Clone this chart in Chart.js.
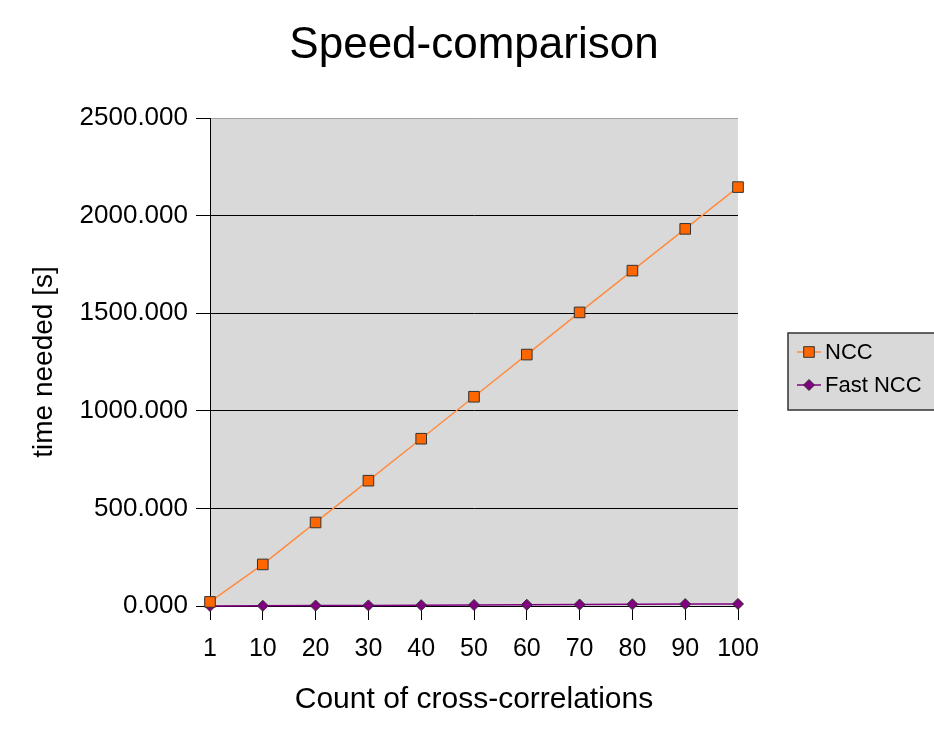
<!DOCTYPE html>
<html>
<head>
<meta charset="utf-8">
<script src="https://cdn.jsdelivr.net/npm/chart.js@4/dist/chart.umd.min.js"></script>
<style>
  html, body { margin: 0; padding: 0; background: #fff; }
  canvas { display: block; }
</style>
</head>
<body>
<canvas id="myChart" width="934" height="733"></canvas>
<script>
const counts = ['1', '10', '20', '30', '40', '50', '60', '70', '80', '90', '100'];
const nccTimes = [21, 213, 428, 642, 857, 1072, 1288, 1504, 1718, 1932, 2146];
const fastNccTimes = [0.3, 1.1, 2.2, 3.2, 4.3, 5.4, 6.5, 7.5, 8.6, 9.7, 10.8];
const yTicks = [0, 500, 1000, 1500, 2000, 2500];

const chartTitle = 'Speed-comparison';
const fontName = '"Liberation Sans", Arial, sans-serif';

// grauer Hintergrund fuer den Plotbereich + Titel
const plotBackground = {
  id: 'plotBackground',
  beforeDraw(chart) {
    const { ctx, chartArea } = chart;
    ctx.save();
    ctx.fillStyle = '#d9d9d9';
    ctx.fillRect(chartArea.left, chartArea.top, chartArea.right - chartArea.left, chartArea.bottom - chartArea.top);
    ctx.fillStyle = '#000';
    ctx.font = '44px ' + fontName;
    ctx.textAlign = 'center';
    ctx.textBaseline = 'middle';
    ctx.fillText(chartTitle, 474, 46);
    ctx.restore();
  }
};

// Legende rechts, selbst gezeichnet aus den Datasets
const sideLegend = {
  id: 'sideLegend',
  afterDraw(chart) {
    const ctx = chart.ctx;
    ctx.save();
    ctx.fillStyle = '#d9d9d9';
    ctx.strokeStyle = '#333';
    ctx.lineWidth = 1.5;
    ctx.fillRect(788, 333, 160, 77);
    ctx.strokeRect(788, 333, 160, 77);
    chart.data.datasets.forEach((ds, i) => {
      const y = 352 + i * 33;
      ctx.strokeStyle = ds.borderColor;
      ctx.lineWidth = 1.5;
      ctx.beginPath();
      ctx.moveTo(797, y);
      ctx.lineTo(821, y);
      ctx.stroke();
      ctx.fillStyle = ds.pointBackgroundColor;
      ctx.strokeStyle = ds.pointBorderColor;
      ctx.lineWidth = 1;
      Chart.helpers.drawPoint(ctx, {
        pointStyle: ds.pointStyle,
        rotation: 0,
        borderWidth: 1,
        radius: ds.pointRadius
      }, 809, y);
      ctx.fillStyle = '#000';
      ctx.font = '22px ' + fontName;
      ctx.textAlign = 'left';
      ctx.textBaseline = 'middle';
      ctx.fillText(ds.label, 825, y + 1);
    });
    ctx.restore();
  }
};

const ctx = document.getElementById('myChart').getContext('2d');
new Chart(ctx, {
  type: 'line',
  data: {
    labels: counts,
    datasets: [{
      label: 'NCC',
      data: nccTimes,
      borderColor: '#ff8c40',
      borderWidth: 1.5,
      pointStyle: 'rect',
      pointRadius: 7.5,
      pointBackgroundColor: '#ff6600',
      pointBorderColor: '#333',
      pointBorderWidth: 1,
      tension: 0,
      clip: false
    }, {
      label: 'Fast NCC',
      data: fastNccTimes,
      borderColor: '#800080',
      borderWidth: 1.5,
      pointStyle: 'rectRot',
      pointRadius: 5.5,
      pointBackgroundColor: '#800080',
      pointBorderColor: '#333',
      pointBorderWidth: 1,
      tension: 0,
      clip: false
    }]
  },
  options: {
    responsive: false,
    animation: false,
    layout: { padding: { top: 118, right: 196, left: 0, bottom: 0 } },
    plugins: {
      legend: { display: false },
      title: { display: false },
      tooltip: { enabled: false }
    },
    scales: {
      x: {
        type: 'category',
        offset: false,
        afterFit(scale) { scale.height = 127; },
        grid: { drawOnChartArea: false, tickLength: 14, tickColor: '#000' },
        border: { color: '#000', width: 1 },
        ticks: { color: '#000', padding: 14, maxRotation: 0, autoSkip: false, font: { family: fontName, size: 25 } },
        title: {
          display: true,
          text: 'Count of cross-correlations',
          color: '#000',
          font: { family: fontName, size: 30 },
          padding: { top: 0, bottom: 15 }
        }
      },
      y: {
        min: 0,
        max: 2500,
        afterFit(scale) { scale.width = 210; },
        afterBuildTicks(scale) { scale.ticks = yTicks.map(v => ({ value: v })); },
        grid: {
          color: c => (c.tick && c.tick.value === 2500 ? '#a0a0a0' : '#000'),
          lineWidth: 1,
          tickLength: 14,
          tickColor: '#000'
        },
        border: { color: '#000', width: 1 },
        ticks: {
          color: '#000',
          padding: 8,
          font: { family: fontName, size: 26 },
          callback: v => Number(v).toFixed(3)
        },
        title: {
          display: true,
          text: 'time needed [s]',
          color: '#000',
          font: { family: fontName, size: 28 },
          padding: { top: 27, bottom: 0 }
        }
      }
    }
  },
  plugins: [plotBackground, sideLegend]
});
</script>
</body>
</html>
